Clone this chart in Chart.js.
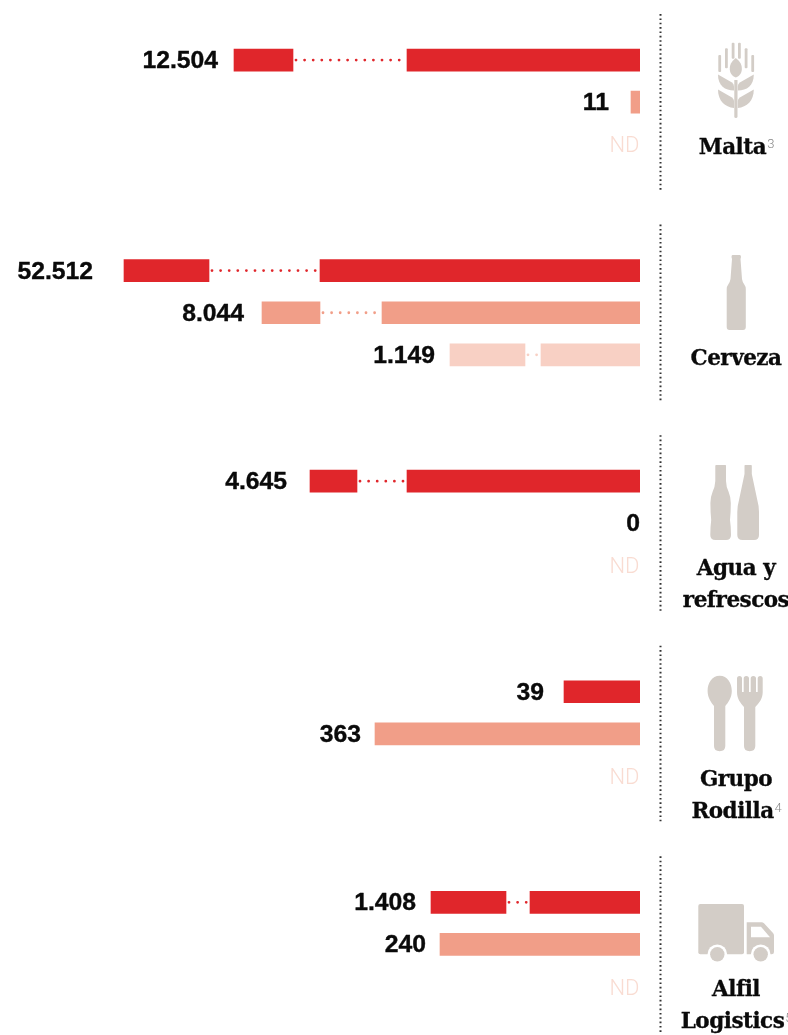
<!DOCTYPE html>
<html>
<head>
<meta charset="utf-8">
<title>Malta, Cerveza, Agua y refrescos, Grupo Rodilla, Alfil Logistics</title>
<script src="https://cdn.jsdelivr.net/npm/chart.js@4"></script>
<style>
  html, body { margin: 0; padding: 0; background: #fff; overflow: hidden; }
  #wrap { width: 788px; height: 1035px; }
</style>
</head>
<body>
<div id="wrap"><canvas id="chart" width="788" height="1035"></canvas></div>
<script>
// categories
const groupLines = [['Malta'], ['Cerveza'], ['Agua y', 'refrescos'], ['Grupo', 'Rodilla'], ['Alfil', 'Logistics']]
const groupNotes = ['3', '', '', '4', '5']

// printed values, one list per series (top, middle, bottom row of each group)
const s1Labels = ['12.504', '52.512', '4.645', '39', '1.408']
const s2Labels = ['11', '8.044', '0', '363', '240']
const s3Labels = ['ND', '1.149', 'ND', 'ND', 'ND']

// drawn bar length: the bars are cut, so the part next to
// the axis ends at "near" and the cut-off part goes from "farFrom" to "farTo"
const s1Near = [233, 320, 233, 76, 110]
const s1FarFrom = [347, 431, 283, null, 134]
const s1FarTo = [406, 516, 330, null, 209]
const s2Near = [9, 258, 0, 265, 200]
const s2FarFrom = [null, 320, null, null, null]
const s2FarTo = [null, 378, null, null, null]
const s3Near = [0, 99, 0, 0, 0]
const s3FarFrom = [null, 115, null, null, null]
const s3FarTo = [null, 190, null, null, null]

// 3 rows and 2 empty ones per group, last group without the empty ones
const ROWS_PER_GROUP = 5
const rowCount = ROWS_PER_GROUP * groupLines.length - 2
const seriesColors = ['#e0262b', '#f19e88', '#f8d0c4']
const ICON = '#d3cdc7'

// space between label and bar, it changes from row to row in the reference
const s1Gap = [16, 31, 23, 20, 15]
const s2Gap = [22, 18, 0, 14, 14]
const s3Gap = [0, 15, 0, 0, 0]

const rowLabels = []
const nearData = []
const farData = []
const rowColors = []
const rowTexts = []
const rowFar = []
const rowGap = []

function pushRow(text, near, farFrom, farTo, color, gap) {
  rowLabels.push(String(rowLabels.length))
  nearData.push(near > 0 ? [0, near] : null)
  farData.push(farFrom != null ? [farFrom, farTo] : null)
  rowColors.push(color)
  rowTexts.push(text)
  rowFar.push(farFrom != null)
  rowGap.push(gap)
}

for (let g = 0; g < groupLines.length; g++) {
  pushRow(s1Labels[g], s1Near[g], s1FarFrom[g], s1FarTo[g], seriesColors[0], s1Gap[g])
  pushRow(s2Labels[g], s2Near[g], s2FarFrom[g], s2FarTo[g], seriesColors[1], s2Gap[g])
  pushRow(s3Labels[g], s3Near[g], s3FarFrom[g], s3FarTo[g], seriesColors[2], s3Gap[g])
  if (g < groupLines.length - 1) {
    pushRow('', 0, null, null, '#fff', 0)
    pushRow('', 0, null, null, '#fff', 0)
  }
}

// icons, page coordinates
function drawIcons(ctx) {
  ctx.save()
  ctx.fillStyle = ICON

  // wheat
  for (const r of [[718.3, 55, 17], [725, 48.3, 20], [731.7, 42.7, 16], [738, 42.7, 16], [744.7, 48.3, 20], [751.3, 55, 17]]) {
    ctx.beginPath()
    ctx.roundRect(r[0], r[1], 2.8, r[2], 1)
    ctx.fill()
  }
  ctx.fill(new Path2D('M735.8 58C731 62 729.6 65 729.8 69.5C730 74 733 76.5 735.8 77.5C738.6 76.5 741.6 74 741.8 69.5C742 65 740.6 62 735.8 58Z'))
  ctx.fill(new Path2D('M718 74.5L732 82.5Q734 84 734 86.5V90.5C725 90.5 718 86 718 74.5Z'))
  ctx.fill(new Path2D('M753.8 74.5L739.8 82.5Q737.8 84 737.8 86.5V90.5C746.8 90.5 753.8 86 753.8 74.5Z'))
  ctx.fill(new Path2D('M718 89.5L732 97.5Q734 99 734 101V108C725 107 718 101 718 89.5Z'))
  ctx.fill(new Path2D('M753.8 89.5L739.8 97.5Q737.8 99 737.8 101V108C746.8 107 753.8 101 753.8 89.5Z'))
  ctx.fill(new Path2D('M734.3 80H737.5V116.5Q737.5 118 735.9 118Q734.3 118 734.3 116.5Z'))

  // beer bottle
  ctx.fill(new Path2D('M732.5 255H739.8Q741 255 741 257L740.5 259L742 279Q742.5 282 744 284Q745.8 286.5 745.8 289V327Q745.8 330 743 330H729.5Q726.7 330 726.7 327V289Q726.7 286.5 728.5 284Q730 282 730.5 279L732 259L731.5 257Q731.5 255 732.5 255Z'))

  // water and soft drink bottles
  ctx.fill(new Path2D('M716 465H725.5Q726 465 726 466V481Q726.2 487 728.5 491.5Q730.8 497 730.8 503Q730.8 512 730 520Q731 527 731 535Q731 540 726 540H715.5Q710.3 540 710.3 535Q710.3 527 711.2 520Q710.4 512 710.4 503Q710.4 497 712.7 491.5Q715 487 715.3 481V466Q715.3 465 716 465Z'))
  ctx.fill(new Path2D('M745 465H751.2Q751.8 465 751.8 466V474L757.5 501Q759 506 759 512V535Q759 540 754 540H742.5Q737.3 540 737.3 535V512Q737.3 506 738.8 501L744.5 474V466Q744.5 465 745 465Z'))

  // spoon
  ctx.fill(new Path2D('M719.7 675.7C727.5 675.7 731.8 683 731.8 691C731.8 698 727.8 703 725.3 706V746Q725.3 751.2 719.7 751.2Q714 751.2 714 746V706C711.6 703 707.6 698 707.6 691C707.6 683 711.9 675.7 719.7 675.7Z'))
  // fork
  ctx.fill(new Path2D('M737 678.5Q737 676 739.5 676Q742 676 742 678.5V692H743.7V678.5Q743.7 676 746.3 676Q749 676 749 678.5V692H750.7V678.5Q750.7 676 753.3 676Q756 676 756 678.5V692H757.7V678.5Q757.7 676 760.2 676Q762.7 676 762.7 678.5V692C762.7 699 759 703 755.3 707V746Q755.3 751.2 749.7 751.2Q744 751.2 744 746V707C740.5 703 737 699 737 692Z'))

  // truck
  ctx.beginPath()
  ctx.roundRect(698.3, 904, 45.7, 50.3, 2)
  ctx.fill()
  ctx.fill(new Path2D('M746.7 922.3H761.5Q763 922.3 764 923.3L773 933Q774 934 774 935.5V952Q774 954.3 771.5 954.3H746.7Z'))
  for (const cx of [717.3, 760.7]) {
    ctx.fillStyle = '#fff'
    ctx.beginPath()
    ctx.arc(cx, 954.3, 9.8, 0, Math.PI * 2)
    ctx.fill()
    ctx.fillStyle = ICON
    ctx.beginPath()
    ctx.arc(cx, 954.3, 7.2, 0, Math.PI * 2)
    ctx.fill()
  }
  ctx.fillStyle = '#fff'
  ctx.fill(new Path2D('M751 926.7H761L770 937.3H751Z'))
  ctx.restore()
}

const annotations = {
  id: 'annotations',
  afterDatasetsDraw(chart) {
    const ctx = chart.ctx
    const x = chart.scales.x
    const y = chart.scales.y

    ctx.save()
    // dots across the cut in the bars
    ctx.lineCap = 'round'
    ctx.lineWidth = 2.8
    ctx.setLineDash([0, 8.6])
    for (let i = 0; i < rowCount; i++) {
      if (!rowFar[i]) continue
      const yy = y.getPixelForValue(i)
      ctx.strokeStyle = rowColors[i]
      ctx.beginPath()
      ctx.moveTo(x.getPixelForValue(farData[i][0]) + 3, yy)
      ctx.lineTo(x.getPixelForValue(nearData[i][1]) - 2, yy)
      ctx.stroke()
    }

    // value labels
    ctx.setLineDash([])
    ctx.textAlign = 'right'
    ctx.lineJoin = 'round'
    for (let i = 0; i < rowCount; i++) {
      if (!rowTexts[i]) continue
      const yy = y.getPixelForValue(i)
      if (rowTexts[i] === 'ND') {
        ctx.font = '300 22px Roboto'
        ctx.fillStyle = '#f9dcd2'
        ctx.fillText('ND', x.getPixelForValue(0) - 0.5, yy + 8)
        continue
      }
      let end = x.getPixelForValue(0)
      if (rowFar[i]) end = x.getPixelForValue(farData[i][1])
      else if (nearData[i]) end = x.getPixelForValue(nearData[i][1])
      // the original face is wider than Liberation Sans Bold
      ctx.save()
      ctx.translate(end - rowGap[i], yy + 8)
      ctx.scale(1.075, 1)
      ctx.font = 'bold 23px "Liberation Sans"'
      ctx.fillStyle = '#0a0a0a'
      ctx.strokeStyle = '#0a0a0a'
      ctx.lineWidth = 0.35
      ctx.fillText(rowTexts[i], 0, 0)
      ctx.strokeText(rowTexts[i], 0, 0)
      ctx.restore()
    }

    // separators and group names
    for (let g = 0; g < groupLines.length; g++) {
      const top = y.getPixelForValue(g * ROWS_PER_GROUP)
      ctx.strokeStyle = '#333'
      ctx.lineWidth = 2
      ctx.lineCap = 'butt'
      ctx.setLineDash([1.6, 2.75])
      ctx.beginPath()
      ctx.moveTo(660.5, top - 46)
      ctx.lineTo(660.5, top + 130)
      ctx.stroke()
      ctx.setLineDash([])

      const lines = groupLines[g]
      lines.forEach((line, n) => {
        const hasNote = groupNotes[g] && n === lines.length - 1
        const base = top + 94 + n * 32
        ctx.letterSpacing = '-0.5px'
        ctx.font = 'bold 21.5px "DejaVu Serif"'
        const w = ctx.measureText(line).width
        const left = 736 - (w + (hasNote ? 7 : 0)) / 2
        ctx.textAlign = 'left'
        ctx.fillStyle = '#0a0a0a'
        ctx.strokeStyle = '#0a0a0a'
        ctx.lineWidth = 0.3
        ctx.fillText(line, left, base)
        ctx.strokeText(line, left, base)
        ctx.letterSpacing = '0px'
        if (hasNote) {
          ctx.font = '300 13px Roboto'
          ctx.fillStyle = '#888'
          ctx.fillText(groupNotes[g], left + w + 1, base - 6)
        }
      })
    }
    ctx.restore()

    drawIcons(ctx)
  }
}

new Chart('chart', {
  type: 'bar',
  data: {
    labels: rowLabels,
    datasets: [
      { data: nearData, backgroundColor: rowColors, grouped: false, barThickness: 22 },
      { data: farData, backgroundColor: rowColors, grouped: false, barThickness: 22 }
    ]
  },
  options: {
    indexAxis: 'y',
    responsive: false,
    animation: false,
    layout: { padding: { left: 0, right: 148, top: 39, bottom: 27.4 } },
    plugins: { legend: { display: false }, tooltip: { enabled: false } },
    scales: {
      x: { display: false, reverse: true, min: 0, max: 640 },
      y: { display: false }
    }
  },
  plugins: [annotations]
})
</script>
</body>
</html>
